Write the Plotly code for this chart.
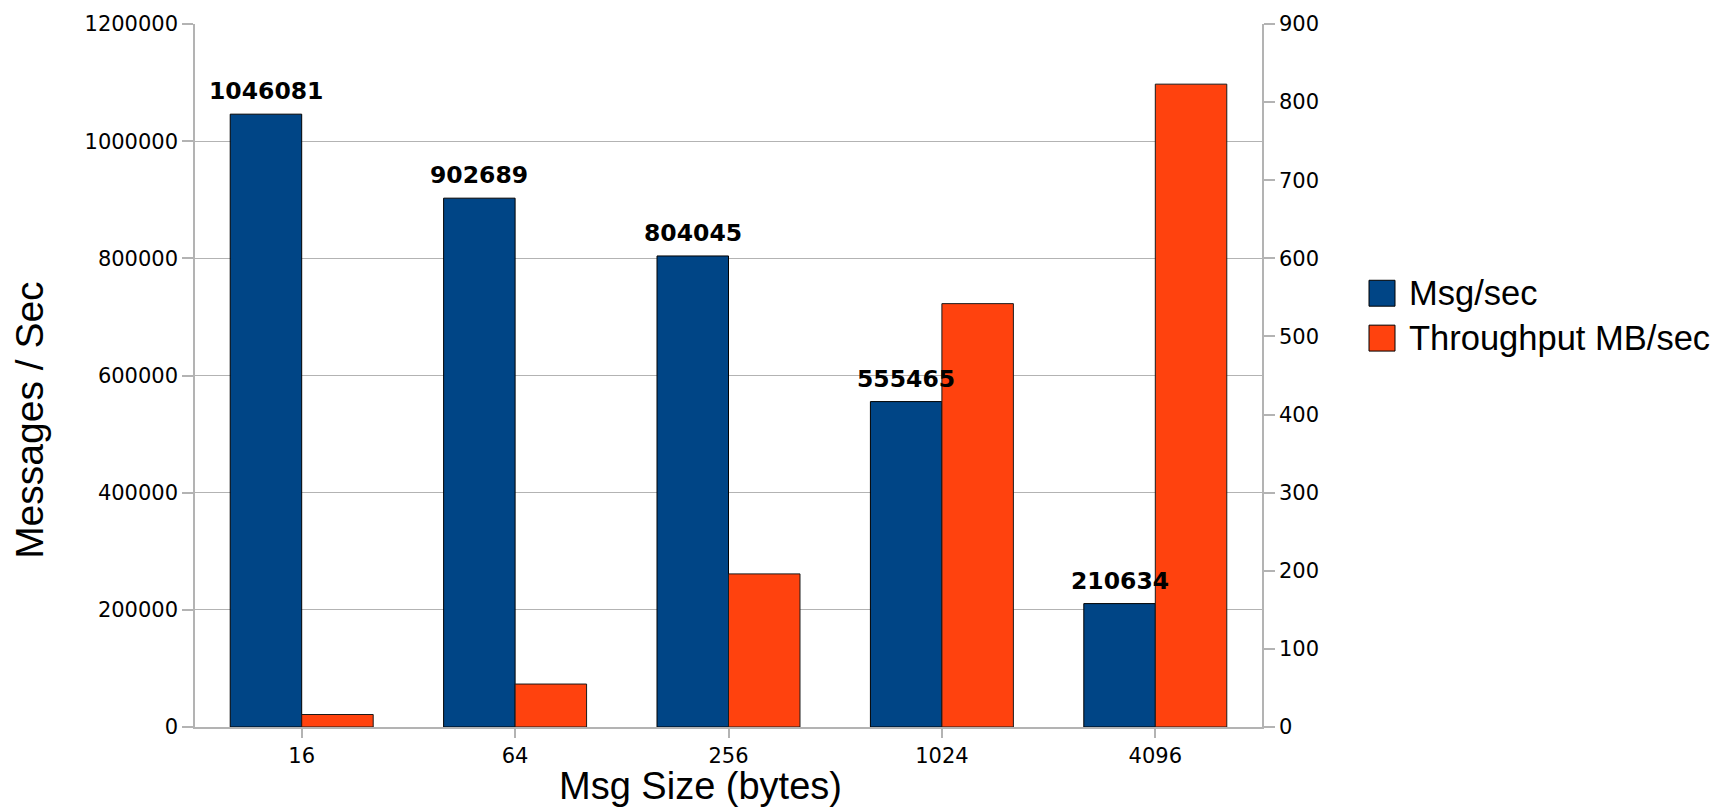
import plotly.graph_objects as go

# Benchmark results: message rate and throughput by message size
msg_sizes = ["16", "64", "256", "1024", "4096"]
msgs_per_sec = [1046081, 902689, 804045, 555465, 210634]
throughput_mb = [16, 55, 196, 542, 823]
series_names = ["Msg/sec", "Throughput MB/sec"]
x_title = "Msg Size (bytes)"
y_title = "Messages / Sec"

BLUE = "#004586"
ORANGE = "#ff420e"
GRID = "#b3b3b3"
TICK_FONT = dict(family="DejaVu Sans", size=21, color="#000000")

W, H = 1721, 807
ML, MR, MT, MB = 195, 459, 22, 80
PW, PH = W - ML - MR, H - MT - MB

BAR_W = 0.335


def px_x(px):
    return (px - ML) / PW


def px_y(py):
    return (H - MB - py) / PH


fig = go.Figure()
fig.add_trace(go.Bar(
    x=msg_sizes, y=msgs_per_sec, name=series_names[0],
    width=BAR_W, offset=-BAR_W,
    marker=dict(color=BLUE, line=dict(color="#000000", width=1)),
    yaxis="y", showlegend=False,
))
fig.add_trace(go.Bar(
    x=msg_sizes, y=throughput_mb, name=series_names[1],
    width=BAR_W, offset=0,
    marker=dict(color=ORANGE, line=dict(color="#1a1a1a", width=1)),
    yaxis="y2", showlegend=False,
))

annotations = []
# value labels above the Msg/sec bars
for i, v in enumerate(msgs_per_sec):
    annotations.append(dict(
        x=i - BAR_W / 2, y=v, xref="x", yref="y",
        text=str(v), showarrow=False, yanchor="bottom", yshift=7,
        font=dict(family="DejaVu Sans", size=23.5, color="#000000", weight="bold"),
    ))

# axis titles
annotations.append(dict(
    x=px_x(700), y=px_y(786), xref="paper", yref="paper",
    text=x_title, showarrow=False, xanchor="center", yanchor="middle",
    font=dict(family="Liberation Sans", size=38, color="#000000"),
))
annotations.append(dict(
    x=px_x(30), y=px_y(420), xref="paper", yref="paper",
    text=y_title, showarrow=False, textangle=-90,
    xanchor="center", yanchor="middle",
    font=dict(family="Liberation Sans", size=39, color="#000000"),
))

# legend drawn as swatches with labels
shapes = []
legend_rows = [(series_names[0], BLUE, 292), (series_names[1], ORANGE, 337)]
for name, color, cy in legend_rows:
    shapes.append(dict(
        type="rect", xref="paper", yref="paper",
        x0=px_x(1369), x1=px_x(1395), y0=px_y(cy + 13), y1=px_y(cy - 13),
        fillcolor=color, line=dict(color="#000000", width=1),
    ))
    annotations.append(dict(
        x=px_x(1407), y=px_y(cy), xref="paper", yref="paper",
        text=name, showarrow=False, xanchor="left", yanchor="middle",
        font=dict(family="Liberation Sans", size=34.5, color="#000000"),
    ))

fig.update_layout(
    width=W, height=H,
    margin=dict(l=ML, r=MR, t=MT, b=MB, pad=0),
    paper_bgcolor="#ffffff", plot_bgcolor="#ffffff",
    barmode="overlay",
    xaxis=dict(
        type="category", categoryorder="array", categoryarray=msg_sizes,
        showgrid=False, showline=True, linecolor=GRID, linewidth=1.5,
        ticks="outside", ticklen=9, tickcolor=GRID, tickwidth=1.5,
        tickfont=TICK_FONT, zeroline=False,
    ),
    yaxis=dict(
        range=[0, 1200000], dtick=200000, tickformat="d",
        showgrid=True, gridcolor=GRID, gridwidth=1.2,
        showline=True, linecolor=GRID, linewidth=1.5,
        ticks="outside", ticklen=11, tickcolor=GRID, tickwidth=1.5,
        tickfont=TICK_FONT, zeroline=False,
    ),
    yaxis2=dict(
        range=[0, 900], dtick=100, overlaying="y", side="right",
        showgrid=False, showline=True, linecolor=GRID, linewidth=1.5,
        ticks="outside", ticklen=11, tickcolor=GRID, tickwidth=1.5,
        tickfont=TICK_FONT, zeroline=False,
    ),
    annotations=annotations,
    shapes=shapes,
)

fig.write_html("out.html")
